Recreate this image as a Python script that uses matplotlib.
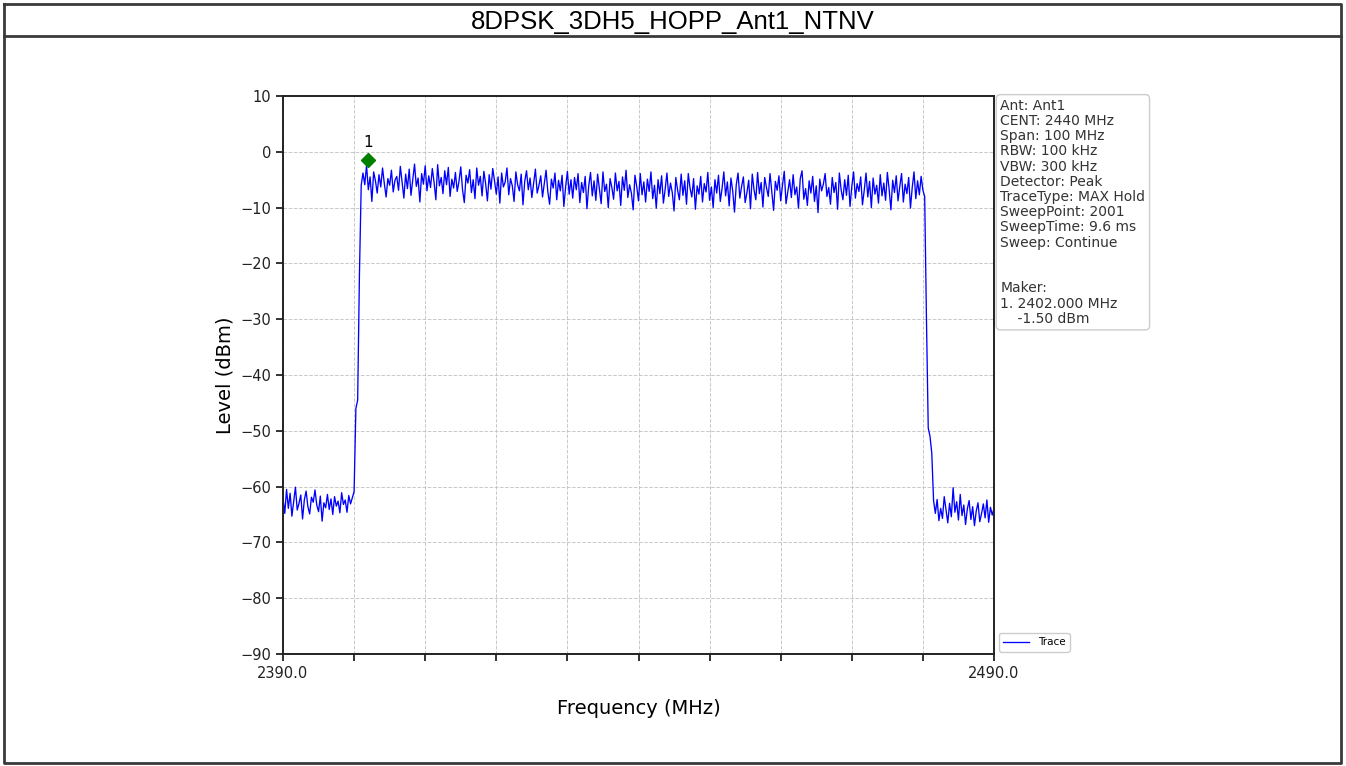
import numpy as np
import matplotlib.pyplot as plt
from matplotlib.lines import Line2D

plt.rcParams['font.family'] = 'DejaVu Sans'

# Sweep settings (2001-point sweep shown here at 0.25 MHz resolution)
f_start, f_stop = 2390.0, 2490.0
n_points = 401

# Trace levels (dBm), left to right
floor_left = [
    -62.1, -64.8, -60.5, -63.9, -61.2, -65.3, -62.7, -60.1, -64.2, -63.0,
    -61.5, -65.8, -62.4, -60.8, -63.6, -64.9, -61.9, -62.8, -60.6, -63.3,
    -64.5, -61.7, -66.2, -62.9, -63.8, -61.4, -64.1, -62.2, -65.0, -61.8,
    -63.5, -62.6, -64.7, -61.1, -63.2, -62.4, -64.6, -61.6, -63.1, -62.0,
    -60.9,
]
rising_edge = [-46.0, -44.5, -22.0, -6.0]
in_band = [
    -3.8, -5.9, -2.4, -6.8, -4.5, -8.9, -3.6, -5.2, -7.4, -4.1, -6.3, -2.9, -5.7, -8.1, -4.8, -6.0, -3.3, -7.2, -5.1, -4.4,
    -6.9, -2.6, -5.4, -8.3, -4.0, -6.6, -3.1, -7.8, -5.0, -2.2, -6.2, -4.7, -9.0, -3.9, -5.8, -2.5, -7.0, -4.3, -6.4, -3.0,
    -5.5, -8.6, -2.3, -6.1, -4.6, -7.5, -3.4, -5.9, -2.8, -8.0, -4.9, -6.5, -3.7, -7.1, -5.3, -2.7, -6.8, -9.1, -4.2, -5.6,
    -3.2, -7.3, -5.0, -8.4, -2.9, -6.0, -4.4, -7.9, -3.5, -5.7, -8.8, -4.1, -6.7, -3.0, -5.2, -7.6, -4.5, -9.2, -3.8, -6.3,
    -5.4, -2.9, -7.7, -4.8, -6.1, -8.9, -3.6, -5.9, -7.0, -4.0, -9.5, -5.3, -3.4, -6.8, -4.7, -8.2, -5.6, -3.1, -7.4, -6.0,
    -4.3, -8.1, -5.7, -3.3, -7.2, -9.4, -4.9, -6.5, -3.8, -8.6, -5.1, -7.0, -4.2, -9.8, -6.3, -3.5, -7.6, -5.0, -8.3, -4.6,
    -6.8, -3.9, -9.1, -5.5, -7.3, -4.4, -10.2, -6.1, -3.7, -7.9, -5.2, -8.7, -4.0, -6.6, -9.3, -3.6, -7.1, -5.8, -10.0, -4.8,
    -6.4, -8.5, -3.8, -7.0, -5.3, -9.6, -4.5, -6.9, -3.3, -8.2, -5.9, -7.4, -10.4, -4.2, -6.2, -8.8, -3.9, -7.7, -5.4, -9.0,
    -4.9, -7.1, -3.6, -8.4, -6.0, -10.1, -5.0, -7.5, -4.3, -9.2, -6.7, -3.8, -8.0, -5.6, -7.3, -10.6, -4.6, -6.9, -8.6, -4.0,
    -7.8, -5.2, -9.4, -3.9, -6.5, -8.1, -4.8, -10.3, -6.1, -7.6, -4.4, -9.0, -5.7, -7.2, -3.7, -8.7, -6.3, -10.0, -5.0, -7.4,
    -4.2, -8.9, -6.6, -3.6, -7.9, -5.4, -9.7, -4.7, -7.0, -10.8, -5.9, -3.8, -8.3, -6.2, -4.5, -9.1, -7.3, -5.1, -10.2, -4.0,
    -6.8, -8.6, -3.7, -7.5, -5.5, -9.9, -4.6, -6.4, -8.0, -3.9, -7.2, -10.5, -5.3, -6.9, -4.3, -8.8, -6.0, -3.5, -9.3, -7.1,
    -5.0, -8.2, -4.1, -7.7, -6.3, -10.1, -4.8, -3.4, -8.5, -6.6, -9.6, -5.2, -7.4, -4.4, -8.9, -6.1, -10.9, -4.9, -7.0, -5.8,
    -3.9, -8.0, -6.4, -9.4, -4.6, -7.3, -5.5, -10.3, -3.8, -6.8, -8.6, -5.0, -7.8, -4.2, -9.8, -6.2, -3.6, -8.3, -5.7, -7.1,
    -4.5, -9.5, -6.9, -3.8, -8.1, -5.3, -10.0, -4.7, -7.6, -6.0, -9.2, -4.1, -7.9, -5.6, -8.7, -3.7, -6.7, -10.4, -5.1, -7.3,
    -4.3, -8.8, -6.2, -3.9, -9.0, -5.8, -7.5, -4.6, -10.1, -6.4, -3.6, -8.4, -5.2, -7.7, -4.4, -6.9, -8.0,
]
falling_edge = [-30.0, -49.5, -51.0, -54.0, -62.5]
floor_right = [
    -64.8, -62.3, -66.1, -63.9, -65.7, -61.8, -64.2, -66.5, -63.0, -65.4,
    -60.2, -64.6, -62.7, -66.0, -61.4, -65.2, -63.3, -66.8, -64.0, -62.5,
    -65.9, -63.6, -67.0, -64.4, -62.9, -66.3, -64.8, -63.1, -65.6, -62.4,
    -66.4, -63.7, -65.1, -63.9,
]

# Marker readout
marker_freq = 2402.000
marker_level = -1.50

info_lines = [
    'Ant: Ant1',
    'CENT: 2440 MHz',
    'Span: 100 MHz',
    'RBW: 100 kHz',
    'VBW: 300 kHz',
    'Detector: Peak',
    'TraceType: MAX Hold',
    'SweepPoint: 2001',
    'SweepTime: 9.6 ms',
    'Sweep: Continue',
    '',
    '',
    'Maker:',
    f'1. {marker_freq:.3f} MHz',
    f'    {marker_level:.2f} dBm',
]

level = np.array(floor_left + rising_edge + in_band + falling_edge + floor_right)
freq = np.linspace(f_start, f_stop, n_points)

fig = plt.figure(figsize=(13.46, 7.66), dpi=100)

# Report table frame with title row
frame_kw = dict(color='#3a3a3a', linewidth=2.0, transform=fig.transFigure)
W, H = 1346.0, 766.0
x0, x1 = 4 / W, 1341 / W
y_top, y_sep, y_bot = 1 - 4 / H, 1 - 36 / H, 1 - 763 / H
fig.add_artist(Line2D([x0, x1, x1, x0, x0], [y_top, y_top, y_bot, y_bot, y_top], **frame_kw))
fig.add_artist(Line2D([x0, x1], [y_sep, y_sep], **frame_kw))
fig.text(0.5, 1 - 22.5 / H, '8DPSK_3DH5_HOPP_Ant1_NTNV', ha='center', va='center',
         fontsize=18.5, family='Liberation Sans')

ax = fig.add_axes([283 / W, 1 - 654 / H, (994 - 283) / W, (654 - 96) / H])

ax.plot(freq, level, color='blue', linewidth=0.95, label='Trace')
ax.plot(marker_freq, marker_level, marker='D', color='green', markersize=7, linestyle='none')
ax.text(marker_freq, marker_level + 1.8, '1', ha='center', va='bottom', fontsize=11)

ax.set_xlim(f_start, f_stop)
ax.set_ylim(-90, 10)
ax.set_xticks(np.arange(2390, 2491, 10))
ax.set_xticklabels(['2390.0'] + [''] * 9 + ['2490.0'])
ax.set_yticks(np.arange(-90, 11, 10))
ax.tick_params(labelsize=10.5, width=1.3, length=5, colors='#222222')
for spine in ax.spines.values():
    spine.set_linewidth(1.4)
    spine.set_color('#222222')

ax.grid(True, linestyle='--', color='#bbbbbb', linewidth=0.7, alpha=0.8)
ax.set_xlabel('Frequency (MHz)', fontsize=14, labelpad=13)
ax.set_ylabel('Level (dBm)', fontsize=14, labelpad=4)

ax.text(1.009, 0.995, '\n'.join(info_lines), transform=ax.transAxes,
        ha='left', va='top', fontsize=10, color='#333333', linespacing=1.11,
        bbox=dict(boxstyle='round,pad=0.3', facecolor='white', edgecolor='#cccccc', linewidth=1))

ax.legend(loc='lower left', bbox_to_anchor=(1.0, -0.005), fontsize=7.5, framealpha=1,
          edgecolor='#cccccc', handlelength=2.5)

fig.savefig('out.png', dpi=100)
